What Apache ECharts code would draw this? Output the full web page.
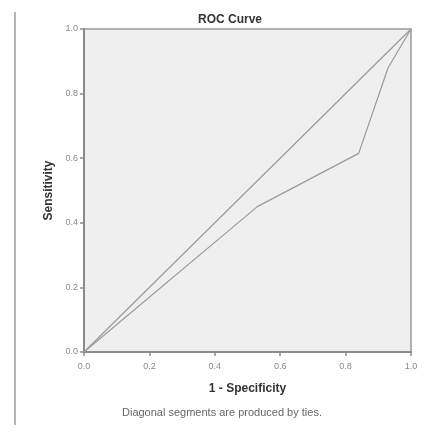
<!DOCTYPE html>
<html>
<head>
<meta charset="utf-8">
<script src="https://cdn.jsdelivr.net/npm/echarts@6/dist/echarts.min.js"></script>
<style>
  html, body { margin: 0; padding: 0; background: #fff; }
  #chart { width: 441px; height: 437px; }
</style>
</head>
<body>
<div id="chart"></div>
<script>
// ROC curve points (1 - specificity, sensitivity)
const rocX = [0.0, 0.53, 0.84, 0.93, 1.0];
const rocY = [0.0, 0.45, 0.615, 0.88, 1.0];
// reference diagonal
const diagX = [0.0, 1.0];
const diagY = [0.0, 1.0];
const tickStep = 0.2;

const chart = echarts.init(document.getElementById("chart"));

const lineStyle = { color: "#9a9a9a", width: 1.2 };
const axisCommon = {
  type: "value",
  min: 0,
  max: 1,
  interval: tickStep,
  splitLine: { show: false },
  axisLine: { show: true, lineStyle: { color: "#8a8a8a", width: 2 } },
  axisTick: { show: true, inside: false, length: 4, lineStyle: { color: "#8a8a8a", width: 1.5 } },
  axisLabel: {
    color: "#8a8a8a",
    fontSize: 9,
    fontFamily: "Liberation Sans",
    formatter: (v) => v.toFixed(1),
  },
  nameTextStyle: {
    color: "#333",
    fontSize: 12,
    fontWeight: "bold",
    fontFamily: "Liberation Sans",
  },
};

chart.setOption({
  animation: false,
  backgroundColor: "#ffffff",
  title: {
    text: "ROC Curve",
    left: 225,
    top: 9,
    textAlign: "center",
    textStyle: { color: "#333", fontSize: 12, fontWeight: "bold", fontFamily: "Liberation Sans" },
  },
  grid: {
    left: 84,
    right: 30,
    top: 29,
    bottom: 85,
    show: true,
    backgroundColor: "#efefef",
    borderColor: "#9a9a9a",
    borderWidth: 1.5,
  },
  xAxis: Object.assign({}, axisCommon, {
    name: "1 - Specificity",
    nameLocation: "middle",
    nameGap: 31,
    axisLabel: Object.assign({}, axisCommon.axisLabel, { margin: 10 }),
  }),
  yAxis: Object.assign({}, axisCommon, {
    name: "Sensitivity",
    nameLocation: "middle",
    nameGap: 28,
    axisLabel: Object.assign({}, axisCommon.axisLabel, { margin: 6 }),
  }),
  graphic: [
    {
      type: "line",
      shape: { x1: 15, y1: 12, x2: 15, y2: 425 },
      style: { stroke: "#b5b5b5", lineWidth: 2 },
    },
    {
      type: "text",
      left: 122,
      top: 407,
      style: {
        text: "Diagonal segments are produced by ties.",
        fill: "#666",
        fontSize: 11,
        fontFamily: "Liberation Sans",
      },
    },
  ],
  series: [
    {
      name: "Diagonal",
      type: "line",
      data: diagX.map((x, i) => [x, diagY[i]]),
      showSymbol: false,
      lineStyle: lineStyle,
    },
    {
      name: "ROC",
      type: "line",
      data: rocX.map((x, i) => [x, rocY[i]]),
      showSymbol: false,
      lineStyle: lineStyle,
    },
  ],
});
</script>
</body>
</html>
